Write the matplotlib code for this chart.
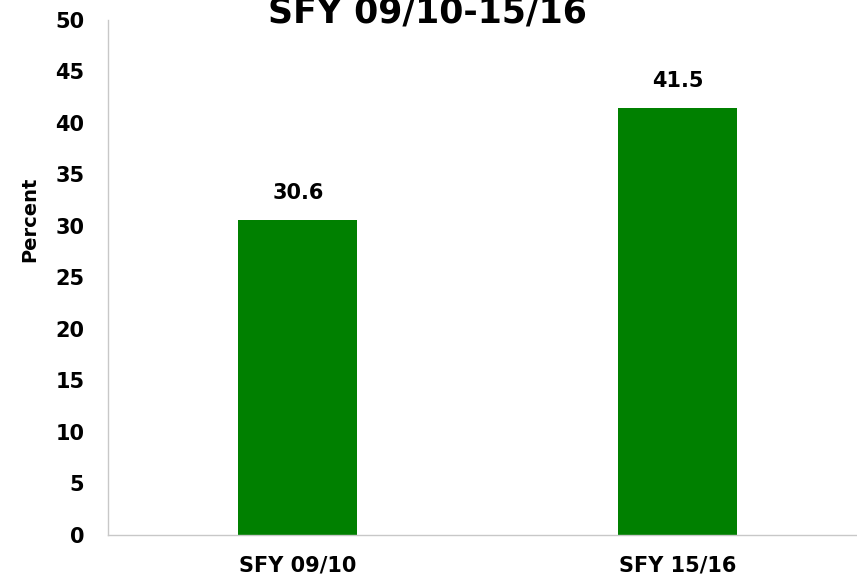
import matplotlib.pyplot as plt

categories = ['SFY 09/10', 'SFY 15/16']
values = [30.6, 41.5]
y_ticks = [0, 5, 10, 15, 20, 25, 30, 35, 40, 45, 50]

plt.rcParams['font.family'] = ['DejaVu Sans']

fig = plt.figure(figsize=(8.57, 5.8), dpi=100)
ax = fig.add_axes([0.126, 0.0776, 0.886, 0.888])

x = range(len(categories))
bars = ax.bar(x, values, width=0.313, color='#008000')

for b, v in zip(bars, values):
    ax.text(b.get_x() + b.get_width() / 2, v + 1.6, f'{v:.1f}',
            ha='center', va='bottom', fontsize=15, fontweight='bold')

ax.set_xlim(-0.5, 1.5)
ax.set_ylim(0, 50)
ax.set_yticks(y_ticks)
ax.set_xticks(list(x))
ax.set_xticklabels(categories, fontsize=15, fontweight='bold')
for lbl in ax.get_yticklabels():
    lbl.set_fontsize(15)
    lbl.set_fontweight('bold')
ax.tick_params(axis='both', length=0)
ax.tick_params(axis='y', pad=17)
ax.tick_params(axis='x', pad=15)

for side in ['top', 'right']:
    ax.spines[side].set_visible(False)
for side in ['left', 'bottom']:
    ax.spines[side].set_color('#c8c8c8')
    ax.spines[side].set_linewidth(1)

ax.set_ylabel('Percent', fontsize=14, fontweight='bold')
ax.yaxis.set_label_coords(-0.09, 0.612)

fig.text(0.499, 0.962, 'SFY 09/10-15/16', ha='center', va='baseline',
         fontsize=25, fontweight='bold')

fig.savefig('out.png', dpi=100)
